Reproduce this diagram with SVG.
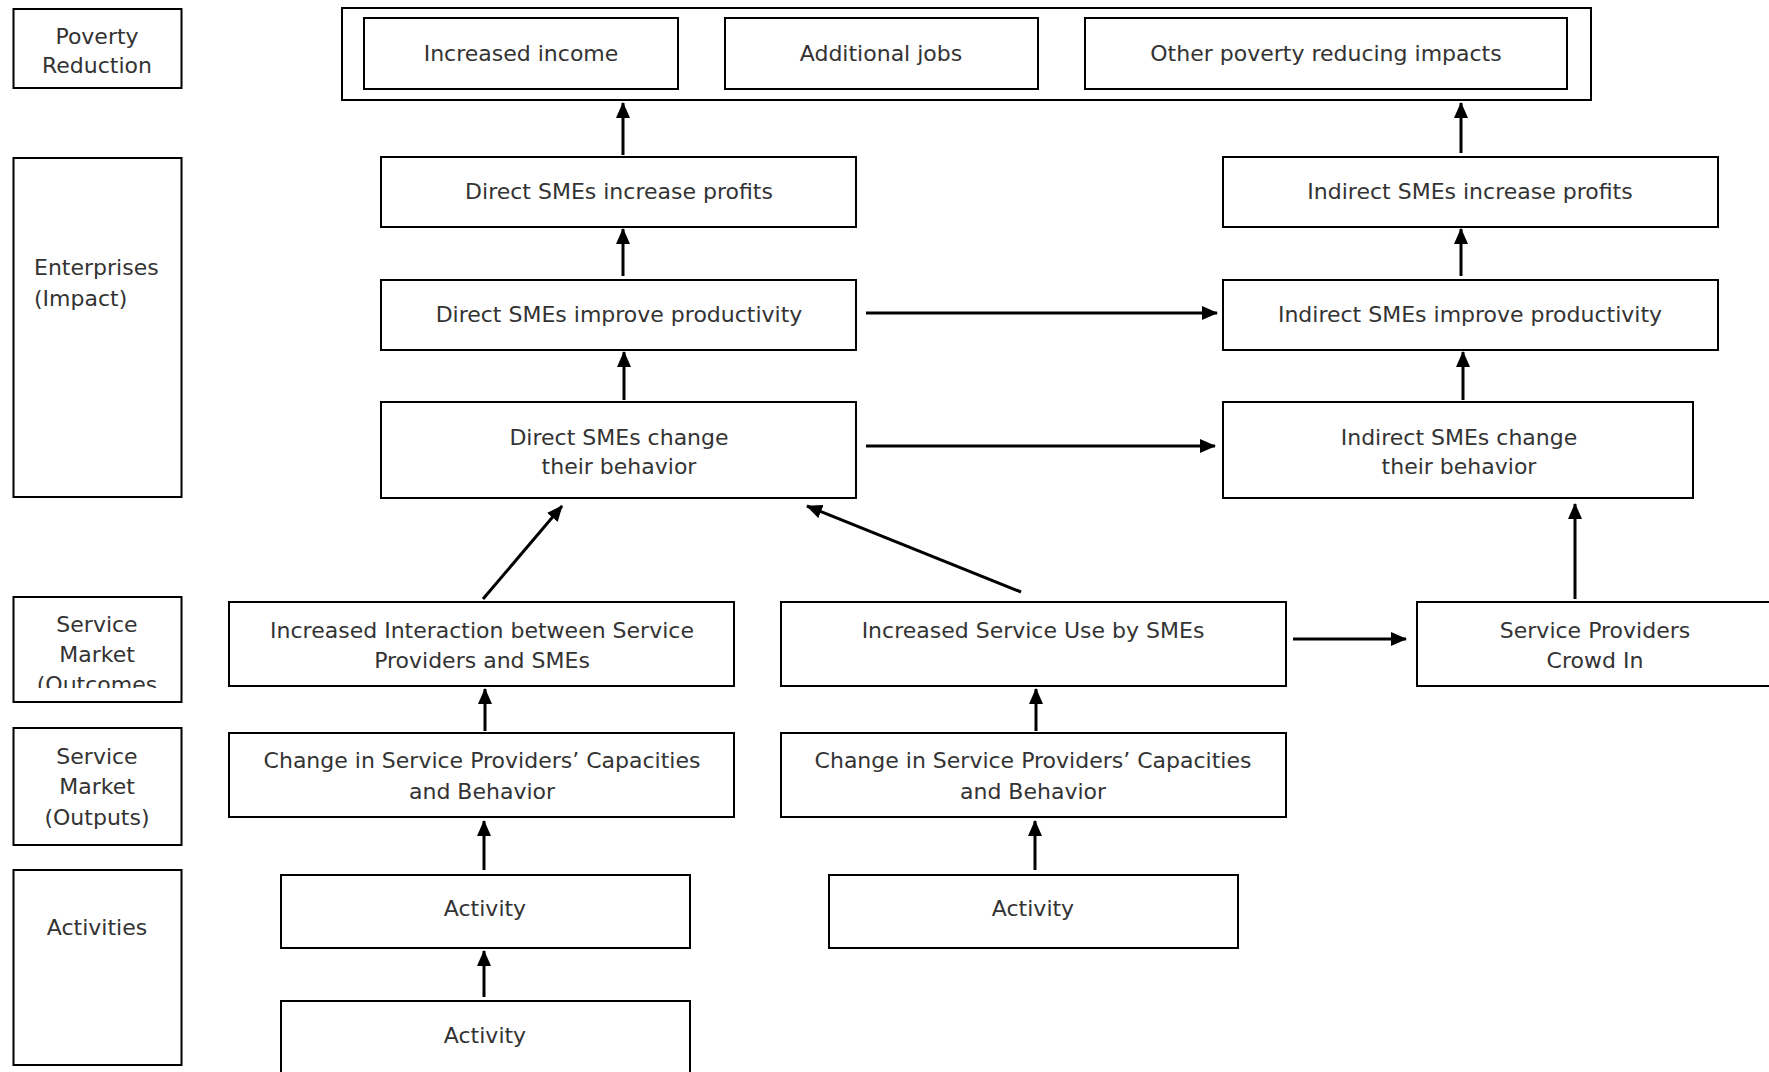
<svg xmlns="http://www.w3.org/2000/svg" width="1769" height="1072" viewBox="0 0 1769 1072">
<style>
.box{fill:#fff;stroke:#000;stroke-width:2}
text{font-family:"DejaVu Sans",Verdana,sans-serif;font-size:22px;fill:#333;text-anchor:middle}
.l{text-anchor:start}
.c{fill:none;stroke:#000;stroke-width:3}
</style>
<defs>
<marker id="ah" markerUnits="userSpaceOnUse" markerWidth="16" markerHeight="14" refX="15" refY="7" orient="auto">
<path d="M0,0 L16,7 L0,14 Z" fill="#000"/>
</marker>
<clipPath id="clipOut"><rect x="14" y="598" width="167" height="90"/></clipPath>
</defs>
<rect width="1769" height="1072" fill="#fff"/>

<g id="lbl-poverty"><rect class="box" x="13.5" y="9" width="168" height="79"/><text x="97" y="44">Poverty</text><text x="97" y="73">Reduction</text></g>
<g id="lbl-enterprises"><rect class="box" x="13.5" y="158" width="168" height="339"/><text class="l" x="34" y="275">Enterprises</text><text class="l" x="34" y="306">(Impact)</text></g>
<g id="lbl-outcomes"><rect class="box" x="13.5" y="597" width="168" height="105"/><g clip-path="url(#clipOut)"><text x="97" y="632">Service</text><text x="97" y="662">Market</text><text x="97" y="692">(Outcomes</text></g></g>
<g id="lbl-outputs"><rect class="box" x="13.5" y="728" width="168" height="117"/><text x="97" y="764">Service</text><text x="97" y="794">Market</text><text x="97" y="825">(Outputs)</text></g>
<g id="lbl-activities"><rect class="box" x="13.5" y="870" width="168" height="195"/><text x="97" y="935">Activities</text></g>

<g id="poverty-group"><rect class="box" x="342" y="8" width="1249" height="92"/></g>
<g id="income"><rect class="box" x="364" y="18" width="314" height="71"/><text x="521" y="61">Increased income</text></g>
<g id="jobs"><rect class="box" x="725" y="18" width="313" height="71"/><text x="881" y="61">Additional jobs</text></g>
<g id="other"><rect class="box" x="1085" y="18" width="482" height="71"/><text x="1326" y="61">Other poverty reducing impacts</text></g>

<g id="d-profits"><rect class="box" x="381" y="157" width="475" height="70"/><text x="619" y="199">Direct SMEs increase profits</text></g>
<g id="d-productivity"><rect class="box" x="381" y="280" width="475" height="70"/><text x="619" y="322">Direct SMEs improve productivity</text></g>
<g id="d-behavior"><rect class="box" x="381" y="402" width="475" height="96"/><text x="619" y="445">Direct SMEs change</text><text x="619" y="474">their behavior</text></g>

<g id="i-profits"><rect class="box" x="1223" y="157" width="495" height="70"/><text x="1470" y="199">Indirect SMEs increase profits</text></g>
<g id="i-productivity"><rect class="box" x="1223" y="280" width="495" height="70"/><text x="1470" y="322">Indirect SMEs improve productivity</text></g>
<g id="i-behavior"><rect class="box" x="1223" y="402" width="470" height="96"/><text x="1459" y="445">Indirect SMEs change</text><text x="1459" y="474">their behavior</text></g>

<g id="interaction"><rect class="box" x="229" y="602" width="505" height="84"/><text x="482" y="638">Increased Interaction between Service</text><text x="482" y="668">Providers and SMEs</text></g>
<g id="service-use"><rect class="box" x="781" y="602" width="505" height="84"/><text x="1033" y="638">Increased Service Use by SMEs</text></g>
<g id="crowd-in"><rect class="box" x="1417" y="602" width="360" height="84"/><text x="1595" y="638">Service Providers</text><text x="1595" y="668">Crowd In</text></g>

<g id="change-left"><rect class="box" x="229" y="733" width="505" height="84"/><text x="482" y="768">Change in Service Providers’ Capacities</text><text x="482" y="799">and Behavior</text></g>
<g id="change-right"><rect class="box" x="781" y="733" width="505" height="84"/><text x="1033" y="768">Change in Service Providers’ Capacities</text><text x="1033" y="799">and Behavior</text></g>

<g id="activity-left"><rect class="box" x="281" y="875" width="409" height="73"/><text x="485" y="916">Activity</text></g>
<g id="activity-right"><rect class="box" x="829" y="875" width="409" height="73"/><text x="1033" y="916">Activity</text></g>
<g id="activity-bottom"><rect class="box" x="281" y="1001" width="409" height="80"/><text x="485" y="1043">Activity</text></g>

<g id="connectors">
<line class="c" x1="623" y1="155" x2="623" y2="103" marker-end="url(#ah)"/>
<line class="c" x1="1461" y1="153" x2="1461" y2="103" marker-end="url(#ah)"/>
<line class="c" x1="623" y1="276" x2="623" y2="229" marker-end="url(#ah)"/>
<line class="c" x1="1461" y1="276" x2="1461" y2="229" marker-end="url(#ah)"/>
<line class="c" x1="624" y1="400" x2="624" y2="352" marker-end="url(#ah)"/>
<line class="c" x1="1463" y1="400" x2="1463" y2="352" marker-end="url(#ah)"/>
<line class="c" x1="866" y1="313" x2="1217" y2="313" marker-end="url(#ah)"/>
<line class="c" x1="866" y1="446" x2="1215" y2="446" marker-end="url(#ah)"/>
<line class="c" x1="483" y1="599" x2="562" y2="506" marker-end="url(#ah)"/>
<line class="c" x1="1021" y1="592" x2="807" y2="506" marker-end="url(#ah)"/>
<line class="c" x1="1293" y1="639" x2="1406" y2="639" marker-end="url(#ah)"/>
<line class="c" x1="1575" y1="599" x2="1575" y2="504" marker-end="url(#ah)"/>
<line class="c" x1="485" y1="731" x2="485" y2="689" marker-end="url(#ah)"/>
<line class="c" x1="1036" y1="731" x2="1036" y2="689" marker-end="url(#ah)"/>
<line class="c" x1="484" y1="870" x2="484" y2="821" marker-end="url(#ah)"/>
<line class="c" x1="1035" y1="870" x2="1035" y2="821" marker-end="url(#ah)"/>
<line class="c" x1="484" y1="997" x2="484" y2="951" marker-end="url(#ah)"/>
</g>
</svg>
